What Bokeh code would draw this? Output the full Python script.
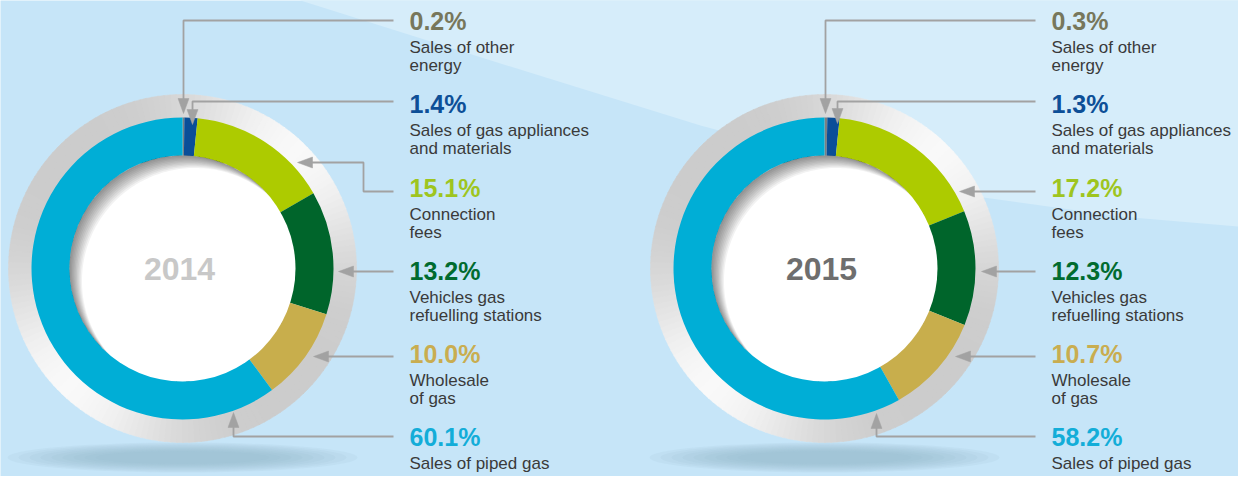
import numpy as np
from bokeh.plotting import figure
from bokeh.models import ColumnDataSource
from bokeh.core.properties import value
from bokeh.embed import file_html
from bokeh.resources import INLINE

# ---------------- data ----------------
years = ["2014", "2015"]
categories = [
    "Sales of other energy",
    "Sales of gas appliances and materials",
    "Connection fees",
    "Vehicles gas refuelling stations",
    "Wholesale of gas",
    "Sales of piped gas",
]
label_lines = [
    ["Sales of other", "energy"],
    ["Sales of gas appliances", "and materials"],
    ["Connection", "fees"],
    ["Vehicles gas", "refuelling stations"],
    ["Wholesale", "of gas"],
    ["Sales of piped gas"],
]
values_2014 = [0.2, 1.4, 15.1, 13.2, 10.0, 60.1]
values_2015 = [0.3, 1.3, 17.2, 12.3, 10.7, 58.2]
series = [values_2014, values_2015]

seg_colors = ["#7b7f82", "#0a4e98", "#adcb00", "#00652b", "#c8ae4c", "#00aed6"]
pct_colors = ["#77775b", "#0d4f97", "#9ec51f", "#006b2f", "#c9ad50", "#13add8"]
year_colors = ["#c8c8c8", "#6e6e6e"]

# ---------------- layout (reference pixel coordinates) ----------------
PW, PH = 1238, 476
def Y(v):
    return PH - v

centers_x = [182, 824]
center_y = 268
r_inner, r_col, r_grey = 113, 151, 174
label_x = [409, 1051]
baselines = [29, 112, 196, 279, 362, 445]
line_offsets = [24, 42]
PCT_FS, TXT_FS, YEAR_FS = 25, 17, 32

connectors = [
    [
        [(393, 20), (183, 20), (183, 113)],
        [(393, 101), (192, 101), (192, 124)],
        [(393, 191), (363, 191), (363, 162), (297, 162)],
        [(393, 271), (338, 271)],
        [(393, 356), (313, 356)],
        [(393, 436), (233, 436), (233, 412)],
    ],
    [
        [(1035, 20), (825, 20), (825, 113)],
        [(1035, 101), (837, 101), (837, 123)],
        [(1035, 191), (959, 191)],
        [(1035, 271), (981, 271)],
        [(1035, 356), (955, 356)],
        [(1035, 436), (876, 436), (876, 413)],
    ],
]

BG = "#c6e5f8"
BG_LIGHT = "#d6edfa"
LINE_C = "#a2a2a2"
FONT = value("Liberation Sans")

p = figure(width=PW, height=PH, x_range=(0, PW), y_range=(0, PH),
           output_backend="svg", toolbar_location=None, min_border=0,
           x_axis_location=None, y_axis_location=None)
p.grid.visible = False
p.outline_line_color = None
p.background_fill_color = BG
p.border_fill_color = BG

# lighter diagonal band
bx = [300, 500, 700, 850, 983, 1120, 1260, 1260, 300]
by = [0, 63, 125, 165, 197, 216, 228, -10, -10]
p.patch(bx, [Y(v) for v in by], fill_color=BG_LIGHT, line_color=None)

for d in range(2):
    cx = centers_x[d]
    cy = Y(center_y)
    vals = series[d]

    # ground shadow
    for k in range(9):
        p.ellipse(x=cx, y=Y(457), width=350 - k * 22, height=30 - k * 2.2,
                  fill_color="#8fb3cc", fill_alpha=0.11, line_color=None)

    # metallic grey ring
    n = 180
    th = np.linspace(0, 2 * np.pi, n, endpoint=False)
    dth = 2 * np.pi / n
    cols = []
    for t in th:
        w = ((1 + np.cos(2 * (t - np.pi / 4))) / 2) ** 2
        v = 0.80 + 0.175 * w
        g = int(round(v * 255))
        cols.append("#%02x%02x%02x" % (g, g, g))
    p.annular_wedge(x=cx, y=cy, inner_radius=r_col - 2, outer_radius=r_grey,
                    start_angle=th, end_angle=th + dth * 1.15,
                    fill_color=cols, line_color=cols, line_width=0.5)

    # coloured segments (clockwise from 12 o'clock)
    cum = np.cumsum([0] + vals) / 100.0
    starts = np.pi / 2 - 2 * np.pi * cum[1:]
    ends = np.pi / 2 - 2 * np.pi * cum[:-1]
    src = ColumnDataSource(dict(start=starts, end=ends, color=seg_colors, cat=categories))
    p.annular_wedge(x=cx, y=cy, inner_radius=r_inner - 2, outer_radius=r_col,
                    start_angle="start", end_angle="end", fill_color="color",
                    line_color=None, source=src)

    # white centre
    p.circle(x=cx, y=cy, radius=r_inner, fill_color="white", line_color=None)

    # inner shadow along the upper-left edge
    tt = np.linspace(0, 2 * np.pi, 240)
    ex = list(cx + r_inner * np.cos(tt))
    ey = list(cy + r_inner * np.sin(tt))
    mxs, mys = [], []
    for k in range(1, 11):
        ox, oy = 1.25 * k, -1.25 * k
        ux, uy = np.cos(tt), np.sin(tt)
        uo = ux * ox + uy * oy
        tdist = uo + np.sqrt(uo ** 2 - (ox ** 2 + oy ** 2) + r_inner ** 2)
        tdist = np.minimum(tdist, r_inner - 0.01)
        hx = list(cx + tdist * ux)
        hy = list(cy + tdist * uy)
        mxs.append([[ex, hx]])
        mys.append([[ey, hy]])
    p.multi_polygons(xs=mxs, ys=mys, fill_color="black", fill_alpha=0.05, line_color=None)

    # year (placed by its visual middle)
    p.text(x=[cx - 3], y=[Y(280 - 0.36 * YEAR_FS)], text=[years[d]], text_font=FONT,
           text_font_style="bold", text_font_size="%dpx" % YEAR_FS,
           text_color=year_colors[d], text_align="center", text_baseline="middle")

    # labels
    lx = label_x[d]
    pct = ["%.1f%%" % v for v in vals]
    p.text(x=[lx] * 6, y=[Y(b - 0.36 * PCT_FS) for b in baselines], text=pct,
           text_font=FONT, text_font_style="bold", text_font_size="%dpx" % PCT_FS,
           text_color=pct_colors, text_align="left", text_baseline="middle")
    tx, ty, tt_ = [], [], []
    for i, lines in enumerate(label_lines):
        for j, ln in enumerate(lines):
            tx.append(lx)
            ty.append(Y(baselines[i] + line_offsets[j] - 0.33 * TXT_FS))
            tt_.append(ln)
    p.text(x=tx, y=ty, text=tt_, text_font=FONT, text_font_size="%dpx" % TXT_FS,
           text_color="#3a3a3a", text_align="left", text_baseline="middle")

    # connectors with arrow heads
    txs, tys = [], []
    for path in connectors[d]:
        xs = [pt[0] for pt in path]
        ys = [Y(pt[1]) for pt in path]
        x1, y1 = xs[-2], ys[-2]
        x2, y2 = xs[-1], ys[-1]
        L = np.hypot(x2 - x1, y2 - y1)
        ux, uy = (x2 - x1) / L, (y2 - y1) / L
        hl, hw = 15, 5.5
        bxp, byp = x2 - ux * hl, y2 - uy * hl
        p.line(xs[:-1] + [bxp + ux], ys[:-1] + [byp + uy], line_color=LINE_C, line_width=1.8)
        txs.append([x2, bxp - uy * hw, bxp + uy * hw])
        tys.append([y2, byp + ux * hw, byp - ux * hw])
    p.patches(txs, tys, fill_color=LINE_C, line_color=LINE_C, line_width=0.5)

open("out.html", "w").write(file_html(p, INLINE))
